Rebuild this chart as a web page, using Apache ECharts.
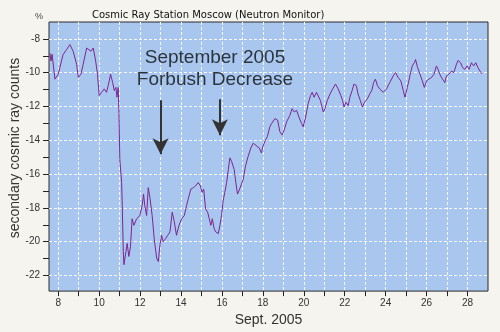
<!DOCTYPE html>
<html>
<head>
<meta charset="utf-8">
<script src="https://cdn.jsdelivr.net/npm/echarts@6/dist/echarts.min.js"></script>
<style>
  html, body { margin: 0; padding: 0; background: #f5f4ef; }
  #chart { width: 500px; height: 332px; }
</style>
</head>
<body>
<div id="chart"></div>
<script>
// day of September 2005 (fractional) and counts in %
const days = [
  7.59, 7.65, 7.7, 7.84, 8.0, 8.08, 8.24, 8.41, 8.57, 8.65, 8.73, 8.9, 8.98, 9.11, 9.22, 9.39, 9.47, 9.6, 9.71, 9.83,
  9.92, 10.0, 10.12, 10.25, 10.36, 10.44, 10.56, 10.66, 10.74, 10.82, 10.87, 10.93, 10.97, 11.01, 11.1, 11.13, 11.18, 11.21, 11.31, 11.37,
  11.45, 11.53, 11.61, 11.7, 11.83, 11.99, 12.1, 12.17, 12.23, 12.32, 12.4, 12.48, 12.59, 12.69, 12.81, 12.89, 12.97, 13.05, 13.13, 13.25,
  13.35, 13.46, 13.57, 13.67, 13.78, 13.9, 14.03, 14.16, 14.27, 14.35, 14.48, 14.6, 14.71, 14.84, 14.95, 15.03, 15.11, 15.2, 15.3, 15.38,
  15.46, 15.53, 15.62, 15.7, 15.82, 15.9, 15.98, 16.06, 16.14, 16.23, 16.31, 16.39, 16.47, 16.6, 16.68, 16.76, 16.83, 16.92, 17.04, 17.15,
  17.28, 17.41, 17.53, 17.61, 17.72, 17.83, 17.93, 18.0, 18.13, 18.22, 18.34, 18.43, 18.59, 18.72, 18.83, 18.94, 19.04, 19.16, 19.32, 19.43,
  19.53, 19.65, 19.76, 19.89, 19.97, 20.09, 20.21, 20.33, 20.41, 20.5, 20.62, 20.7, 20.81, 20.95, 21.03, 21.15, 21.28, 21.41, 21.55, 21.68,
  21.81, 21.89, 21.97, 22.05, 22.17, 22.25, 22.36, 22.45, 22.57, 22.65, 22.76, 22.86, 22.97, 23.1, 23.22, 23.32, 23.41, 23.5, 23.6, 23.71,
  23.88, 24.04, 24.2, 24.37, 24.48, 24.61, 24.74, 24.86, 24.94, 25.06, 25.2, 25.3, 25.4, 25.46, 25.56, 25.68, 25.79, 25.89, 26.0, 26.11,
  26.24, 26.36, 26.48, 26.56, 26.68, 26.78, 26.89, 26.97, 27.09, 27.22, 27.33, 27.46, 27.54, 27.66, 27.76, 27.87, 27.98, 28.08, 28.19, 28.3,
  28.4, 28.51, 28.65, 28.7
];
const counts = [
  -8.83, -9.31, -8.9, -10.38, -10.1, -9.7, -8.92, -8.63, -8.34, -8.24, -8.73, -9.5, -10.28, -10.09, -9.5, -8.54, -8.44, -8.73, -8.54, -9.31,
  -10.09, -11.35, -11.16, -10.96, -11.16, -10.77, -10.09, -10.58, -11.06, -10.87, -11.45, -10.87, -12.42, -15.14, -16.5, -17.87, -20.58, -21.36, -20.58, -20.1,
  -20.87, -20.3, -18.64, -19.03, -18.64, -18.45, -17.87, -17.18, -17.87, -18.45, -16.8, -17.38, -18.45, -19.81, -20.97, -21.17, -20.2, -19.62, -20.0, -19.81,
  -19.62, -19.42, -18.25, -18.8, -19.62, -19.03, -18.64, -18.45, -17.87, -17.48, -16.89, -16.8, -16.7, -16.5, -16.7, -17.08, -16.89, -18.06, -18.25, -18.64,
  -19.03, -18.64, -19.23, -19.42, -19.52, -19.03, -18.45, -17.57, -17.08, -16.5, -15.73, -15.04, -15.24, -15.73, -16.5, -17.18, -16.99, -16.7, -16.31, -15.53,
  -14.95, -14.46, -14.17, -14.26, -14.36, -14.46, -14.75, -14.36, -13.98, -13.78, -13.2, -13.0, -12.71, -12.8, -13.49, -13.69, -13.4, -12.91, -12.52, -12.13,
  -12.32, -12.23, -12.62, -13.0, -13.2, -12.62, -11.84, -11.35, -11.16, -11.45, -11.16, -11.16, -11.64, -12.32, -12.13, -11.64, -11.26, -10.96, -10.67, -10.96,
  -11.35, -11.64, -12.03, -11.74, -11.94, -11.45, -11.06, -10.67, -10.77, -11.26, -11.64, -12.03, -11.74, -11.55, -11.26, -11.06, -10.58, -10.38, -10.77, -10.96,
  -11.16, -10.96, -10.58, -10.19, -9.99, -10.28, -10.48, -11.06, -11.45, -10.87, -10.09, -9.6, -9.41, -9.22, -9.7, -10.09, -10.48, -10.87, -10.48, -10.38,
  -10.28, -10.09, -9.6, -9.8, -10.19, -10.38, -10.58, -10.19, -10.09, -9.9, -9.99, -9.5, -9.27, -9.41, -9.7, -9.8, -9.6, -9.8, -9.41, -9.6,
  -9.41, -9.7, -9.99, -10.07
];
// axis ticks / labels
const xTicks = [8, 9, 10, 11, 12, 13, 14, 15, 16, 17, 18, 19, 20, 21, 22, 23, 24, 25, 26, 27, 28];
const xLabels = [8, 10, 12, 14, 16, 18, 20, 22, 24, 26, 28];
const yLabels = [-22, -20, -18, -16, -14, -12, -10, -8];
const yMinorTicks = [-21, -19, -17, -15, -13, -11, -9];
// the two event arrows: [day, from, to]
const arrows = [[13, -11.63, -14.83], [15.9, -11.57, -13.7]];

const font = 'Liberation Sans, Arial, sans-serif';
const chart = echarts.init(document.getElementById('chart'), null, { renderer: 'canvas' });

chart.setOption({
  backgroundColor: '#f5f4ef',
  animation: false,
  title: {
    text: 'Cosmic Ray Station Moscow (Neutron Monitor)',
    left: 87, top: 5,
    textStyle: { fontSize: 10, fontWeight: 'normal', color: '#111', fontFamily: 'DejaVu Sans' }
  },
  grid: {
    left: 49, right: 12, top: 22, bottom: 37,
    show: true, backgroundColor: '#a9c7ee', borderColor: '#2a2a2a', borderWidth: 1
  },
  xAxis: {
    type: 'value', min: 7.55, max: 29,
    name: 'Sept. 2005', nameLocation: 'middle', nameGap: 17,
    nameTextStyle: { fontSize: 14, color: '#333', fontFamily: font },
    axisLine: { show: false },
    axisTick: { show: true, length: 5, lineStyle: { color: '#222' }, customValues: xTicks },
    axisLabel: { customValues: xLabels, fontSize: 10, color: '#333', margin: 7, fontFamily: font },
    splitLine: { show: true, lineStyle: { color: '#f4f8ff', type: [3, 2], width: 1 } }
  },
  yAxis: [{
    type: 'value', min: -22.92, max: -7,
    axisLine: { show: false },
    axisTick: { show: true, length: 6, lineStyle: { color: '#222' }, customValues: yLabels },
    axisLabel: { customValues: yLabels, fontSize: 10, color: '#333', margin: 9, fontFamily: font },
    splitLine: { show: true, lineStyle: { color: '#f4f8ff', type: [3, 2], width: 1 } }
  }, {
    type: 'value', min: -22.92, max: -7, position: 'left',
    axisLine: { show: false },
    axisTick: { show: true, length: 6, lineStyle: { color: '#222' }, customValues: yMinorTicks },
    axisLabel: { show: false },
    splitLine: { show: false }
  }],
  graphic: [
    { type: 'text', left: 35, top: 12, z: 100, style: { text: '%', fontSize: 9, fill: '#444', fontFamily: font } },
    { type: 'text', x: 15, y: 148, rotation: Math.PI / 2, z: 100,
      style: { text: 'secondary cosmic ray counts', fontSize: 14, fill: '#333', fontFamily: font, align: 'center', verticalAlign: 'middle' } },
    { type: 'text', x: 215, y: 58, z: 100,
      style: { text: 'September 2005', fontSize: 19, fill: '#2b333d', fontFamily: font, align: 'center', verticalAlign: 'middle' } },
    { type: 'text', x: 215, y: 80, z: 100,
      style: { text: 'Forbush Decrease', fontSize: 19, fill: '#2b333d', fontFamily: font, align: 'center', verticalAlign: 'middle' } }
  ],
  series: [{
    type: 'line',
    data: days.map((d, i) => [d, counts[i]]),
    showSymbol: false,
    lineStyle: { color: '#7c2592', width: 1 },
    markLine: {
      silent: true,
      symbol: ['none', 'arrow'],
      symbolSize: [12, 16],
      label: { show: false },
      lineStyle: { color: '#333', width: 2, type: 'solid' },
      data: arrows.map(a => [{ coord: [a[0], a[1]] }, { coord: [a[0], a[2]] }])
    }
  }]
});
</script>
</body>
</html>
